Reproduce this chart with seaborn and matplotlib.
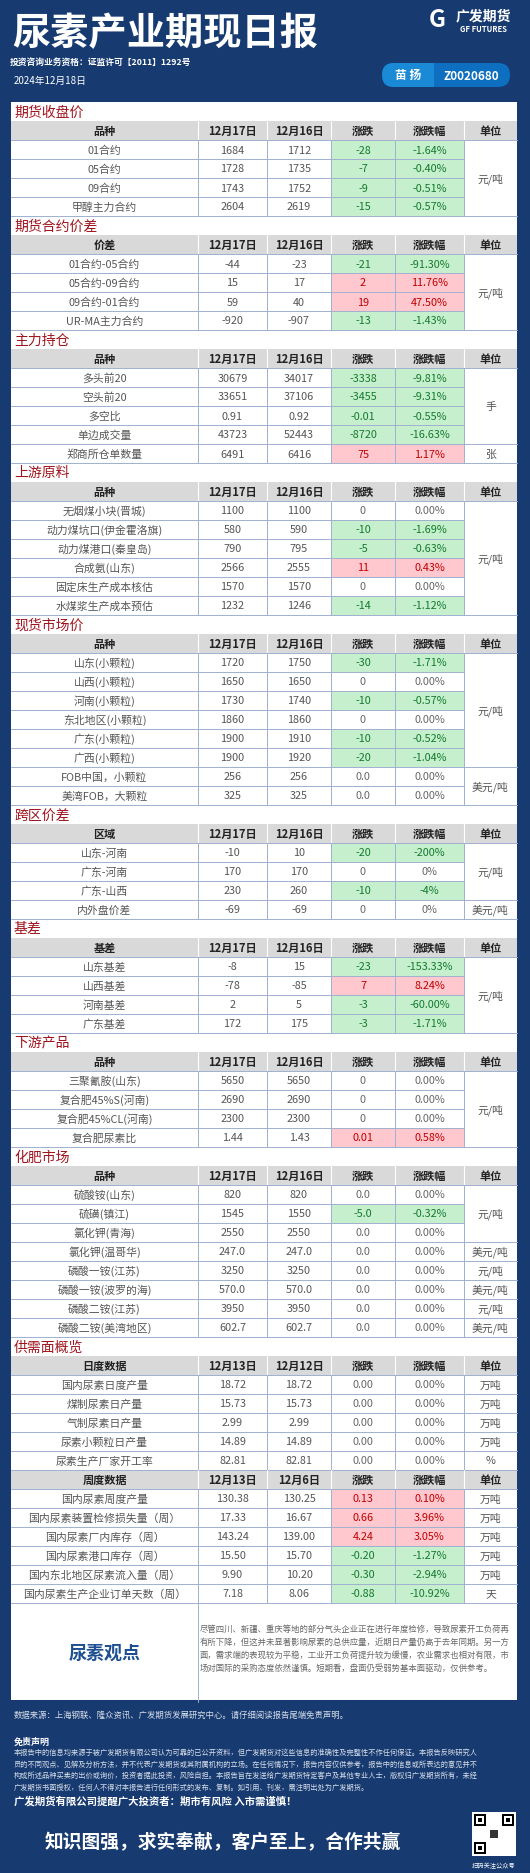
import matplotlib
matplotlib.use("Agg")
import matplotlib.pyplot as plt
import matplotlib.patches as mp
import seaborn as sns

sns.set_theme(style="white")
plt.rcParams['font.family'] = ['Noto Sans CJK SC', 'DejaVu Sans']

# ---------------- data ----------------
s1_names = ["01合约", "05合约", "09合约", "甲醇主力合约"]
s1_d1 = ["1684", "1728", "1743", "2604"]
s1_d2 = ["1712", "1735", "1752", "2619"]
s1_chg = ["-28", "-7", "-9", "-15"]
s1_pct = ["-1.64%", "-0.40%", "-0.51%", "-0.57%"]
s1_units = [("元/吨", 4)]

s2_names = ["01合约-05合约", "05合约-09合约", "09合约-01合约", "UR-MA主力合约"]
s2_d1 = ["-44", "15", "59", "-920"]
s2_d2 = ["-23", "17", "40", "-907"]
s2_chg = ["-21", "2", "19", "-13"]
s2_pct = ["-91.30%", "11.76%", "47.50%", "-1.43%"]
s2_units = [("元/吨", 4)]

s3_names = ["多头前20", "空头前20", "多空比", "单边成交量", "郑商所仓单数量"]
s3_d1 = ["30679", "33651", "0.91", "43723", "6491"]
s3_d2 = ["34017", "37106", "0.92", "52443", "6416"]
s3_chg = ["-3338", "-3455", "-0.01", "-8720", "75"]
s3_pct = ["-9.81%", "-9.31%", "-0.55%", "-16.63%", "1.17%"]
s3_units = [("手", 4), ("张", 1)]

s4_names = ["无烟煤小块(晋城)", "动力煤坑口(伊金霍洛旗)", "动力煤港口(秦皇岛)", "合成氨(山东)",
            "固定床生产成本核估", "水煤浆生产成本预估"]
s4_d1 = ["1100", "580", "790", "2566", "1570", "1232"]
s4_d2 = ["1100", "590", "795", "2555", "1570", "1246"]
s4_chg = ["0", "-10", "-5", "11", "0", "-14"]
s4_pct = ["0.00%", "-1.69%", "-0.63%", "0.43%", "0.00%", "-1.12%"]
s4_units = [("元/吨", 6)]

s5_names = ["山东(小颗粒)", "山西(小颗粒)", "河南(小颗粒)", "东北地区(小颗粒)", "广东(小颗粒)",
            "广西(小颗粒)", "FOB中国，小颗粒", "美湾FOB，大颗粒"]
s5_d1 = ["1720", "1650", "1730", "1860", "1900", "1900", "256", "325"]
s5_d2 = ["1750", "1650", "1740", "1860", "1910", "1920", "256", "325"]
s5_chg = ["-30", "0", "-10", "0", "-10", "-20", "0.0", "0.0"]
s5_pct = ["-1.71%", "0.00%", "-0.57%", "0.00%", "-0.52%", "-1.04%", "0.00%", "0.00%"]
s5_units = [("元/吨", 6), ("美元/吨", 2)]

s6_names = ["山东-河南", "广东-河南", "广东-山西", "内外盘价差"]
s6_d1 = ["-10", "170", "230", "-69"]
s6_d2 = ["10", "170", "260", "-69"]
s6_chg = ["-20", "0", "-10", "0"]
s6_pct = ["-200%", "0%", "-4%", "0%"]
s6_units = [("元/吨", 3), ("美元/吨", 1)]

s7_names = ["山东基差", "山西基差", "河南基差", "广东基差"]
s7_d1 = ["-8", "-78", "2", "172"]
s7_d2 = ["15", "-85", "5", "175"]
s7_chg = ["-23", "7", "-3", "-3"]
s7_pct = ["-153.33%", "8.24%", "-60.00%", "-1.71%"]
s7_units = [("元/吨", 4)]

s8_names = ["三聚氰胺(山东)", "复合肥45%S(河南)", "复合肥45%CL(河南)", "复合肥尿素比"]
s8_d1 = ["5650", "2690", "2300", "1.44"]
s8_d2 = ["5650", "2690", "2300", "1.43"]
s8_chg = ["0", "0", "0", "0.01"]
s8_pct = ["0.00%", "0.00%", "0.00%", "0.58%"]
s8_units = [("元/吨", 4)]

s9_names = ["硫酸铵(山东)", "硫磺(镇江)", "氯化钾(青海)", "氯化钾(温哥华)", "磷酸一铵(江苏)",
            "磷酸一铵(波罗的海)", "磷酸二铵(江苏)", "磷酸二铵(美湾地区)"]
s9_d1 = ["820", "1545", "2550", "247.0", "3250", "570.0", "3950", "602.7"]
s9_d2 = ["820", "1550", "2550", "247.0", "3250", "570.0", "3950", "602.7"]
s9_chg = ["0.0", "-5.0", "0.0", "0.0", "0.0", "0.0", "0.0", "0.0"]
s9_pct = ["0.00%", "-0.32%", "0.00%", "0.00%", "0.00%", "0.00%", "0.00%", "0.00%"]
s9_units = [("元/吨", 3), ("美元/吨", 1), ("元/吨", 1), ("美元/吨", 1), ("元/吨", 1), ("美元/吨", 1)]

s10a_names = ["国内尿素日度产量", "煤制尿素日产量", "气制尿素日产量", "尿素小颗粒日产量", "尿素生产厂家开工率"]
s10a_d1 = ["18.72", "15.73", "2.99", "14.89", "82.81"]
s10a_d2 = ["18.72", "15.73", "2.99", "14.89", "82.81"]
s10a_chg = ["0.00", "0.00", "0.00", "0.00", "0.00"]
s10a_pct = ["0.00%", "0.00%", "0.00%", "0.00%", "0.00%"]
s10a_units = [("万吨", 1), ("万吨", 1), ("万吨", 1), ("万吨", 1), ("%", 1)]

s10b_names = ["国内尿素周度产量", "国内尿素装置检修损失量（周）", "国内尿素厂内库存（周）",
              "国内尿素港口库存（周）", "国内东北地区尿素流入量（周）", "国内尿素生产企业订单天数（周）"]
s10b_d1 = ["130.38", "17.33", "143.24", "15.50", "9.90", "7.18"]
s10b_d2 = ["130.25", "16.67", "139.00", "15.70", "10.20", "8.06"]
s10b_chg = ["0.13", "0.66", "4.24", "-0.20", "-0.30", "-0.88"]
s10b_pct = ["0.10%", "3.96%", "3.05%", "-1.27%", "-2.94%", "-10.92%"]
s10b_units = [("万吨", 1)] * 5 + [("天", 1)]

hdr_dates = ["12月17日", "12月16日"]
hdr_dates_daily = ["12月13日", "12月12日"]
hdr_dates_weekly = ["12月13日", "12月6日"]

sections = [
    ("期货收盘价", "品种", hdr_dates, s1_names, s1_d1, s1_d2, s1_chg, s1_pct, s1_units),
    ("期货合约价差", "价差", hdr_dates, s2_names, s2_d1, s2_d2, s2_chg, s2_pct, s2_units),
    ("主力持仓", "品种", hdr_dates, s3_names, s3_d1, s3_d2, s3_chg, s3_pct, s3_units),
    ("上游原料", "品种", hdr_dates, s4_names, s4_d1, s4_d2, s4_chg, s4_pct, s4_units),
    ("现货市场价", "品种", hdr_dates, s5_names, s5_d1, s5_d2, s5_chg, s5_pct, s5_units),
    ("跨区价差", "区域", hdr_dates, s6_names, s6_d1, s6_d2, s6_chg, s6_pct, s6_units),
    ("基差", "基差", hdr_dates, s7_names, s7_d1, s7_d2, s7_chg, s7_pct, s7_units),
    ("下游产品", "品种", hdr_dates, s8_names, s8_d1, s8_d2, s8_chg, s8_pct, s8_units),
    ("化肥市场", "品种", hdr_dates, s9_names, s9_d1, s9_d2, s9_chg, s9_pct, s9_units),
    ("供需面概览", "日度数据", hdr_dates_daily, s10a_names, s10a_d1, s10a_d2, s10a_chg, s10a_pct, s10a_units),
    (None, "周度数据", hdr_dates_weekly, s10b_names, s10b_d1, s10b_d2, s10b_chg, s10b_pct, s10b_units),
]

view_text = ["尽管四川、新疆、重庆等地的部分气头企业正在进行年度检修，导致尿素开工负荷再",
             "有所下降，但这并未显著影响尿素的总供应量，近期日产量仍高于去年同期。另一方",
             "面，需求端的表现较为平稳，工业开工负荷提升较为缓慢，农业需求也相对有限，市",
             "场对国际的采购态度依然谨慎。短期看，盘面仍受弱势基本面驱动，仅供参考。"]
disclaimer = ["本报告中的信息均来源于被广发期货有限公司认为可靠的已公开资料，但广发期货对这些信息的准确性及完整性不作任何保证。本报告反映研究人",
              "员的不同观点、见解及分析方法，并不代表广发期货或其附属机构的立场。在任何情况下，报告内容仅供参考，报告中的信息或所表达的意见并不",
              "构成所述品种买卖的出价或询价，投资者据此投资，风险自担。本报告旨在发送给广发期货特定客户及其他专业人士，版权归广发期货所有，未经",
              "广发期货书面授权，任何人不得对本报告进行任何形式的发布、复制。如引用、刊发，需注明出处为广发期货。"]

# ---------------- drawing ----------------
NAVY = "#173b70"
GRID = "#9fb1cf"
W, H = 530, 1874
fig = plt.figure(figsize=(W / 100, H / 100), dpi=100)
fig.patch.set_facecolor(NAVY)
ax = fig.add_axes([0, 0, 1, 1])
ax.set_xlim(0, W)
ax.set_ylim(H, 0)
ax.axis("off")
sns.despine(ax=ax, left=True, bottom=True)

# header
ax.text(12, 34, "尿素产业期现日报", color="white", fontsize=27.5, fontweight="bold", va="center", ha="left")
ax.text(10, 62, "投资咨询业务资格：证监许可【2011】1292号", color="white", fontsize=6.3, fontweight="bold", va="center")
ax.text(14, 81, "2024年12月18日", color="white", fontsize=7, va="center")
ax.add_patch(mp.FancyBboxPatch((382, 64), 128, 24, boxstyle="round,pad=0,rounding_size=12",
                               fc="#0e6fc0", ec="none"))
ax.add_patch(mp.FancyBboxPatch((382, 64), 52, 24, boxstyle="round,pad=0,rounding_size=12",
                               fc="#1a8ad6", ec="none"))
ax.add_patch(mp.Rectangle((420, 64), 14, 24, fc="#1a8ad6", ec="none"))
ax.text(408, 76, "苗 扬", color="white", fontsize=8.5, fontweight="bold", ha="center", va="center")
ax.text(471, 76, "Z0020680", color="white", fontsize=8.5, fontweight="bold", ha="center", va="center")
ax.text(437, 20, "G", color="white", fontsize=17, fontweight="bold", style="italic", ha="center", va="center")
ax.text(483, 16, "广发期货", color="white", fontsize=10, fontweight="bold", ha="center", va="center")
ax.text(483, 29, "GF FUTURES", color="white", fontsize=5.5, fontweight="bold", ha="center", va="center")

X = [11, 198, 267, 331, 395, 464, 517]
RH = 19.0
top = 103
y = top
ax.add_patch(mp.Rectangle((11, top), 506, 1604 + 100 - top - 3, fc="white", ec="none", zorder=0))

def ctext(xc, yc, s, **kw):
    ax.text(xc, yc, s, ha="center", va="center", **kw)

for title, h0, dates, names, d1, d2, chg, pct, units in sections:
    if title:
        ax.text(14, y + RH / 2, title, color="#a0141e", fontsize=10, va="center")
        y += RH
    # header row
    ax.add_patch(mp.Rectangle((11, y), 506, RH, fc="#d9d9d9", ec="none"))
    hdr = [h0] + dates + ["涨跌", "涨跌幅", "单位"]
    for i, t in enumerate(hdr):
        ctext((X[i] + X[i + 1]) / 2, y + RH / 2, t, fontsize=8, fontweight="bold", color="#222222")
    for xv in X[1:-1]:
        ax.plot([xv, xv], [y, y + RH], color="white", lw=0.8)
    y0 = y + RH
    n = len(names)
    for r in range(n):
        yr = y0 + r * RH
        c = chg[r]
        val = float(c)
        if val > 0:
            fc, tc = "#ffc7ce", "#c00000"
        elif val < 0:
            fc, tc = "#c6efce", "#137a2c"
        else:
            fc, tc = None, "#666666"
        if fc:
            ax.add_patch(mp.Rectangle((X[3], yr), X[5] - X[3], RH, fc=fc, ec="none"))
        cells = [names[r], d1[r], d2[r], c, pct[r]]
        for i, t in enumerate(cells):
            col = tc if i >= 3 else "#555555"
            ctext((X[i] + X[i + 1]) / 2, yr + RH / 2, t, fontsize=7.8, color=col)
        if r > 0:
            ax.plot([X[0], X[5]], [yr, yr], color=GRID, lw=0.7)
    # units
    k = 0
    for u, cnt in units:
        yu = y0 + k * RH
        ctext((X[5] + X[6]) / 2, yu + cnt * RH / 2, u, fontsize=7.8, color="#555555")
        if k > 0:
            ax.plot([X[5], X[6]], [yu, yu], color=GRID, lw=0.7)
        k += cnt
    yend = y0 + n * RH
    for xv in X[1:-1]:
        ax.plot([xv, xv], [y0, yend], color=GRID, lw=0.7)
    ax.plot([X[0], X[6]], [y0, y0], color=GRID, lw=0.7)
    ax.plot([X[0], X[6]], [yend, yend], color=GRID, lw=0.7)
    y = yend

# view box
vb_top, vb_bot = y, y + 99
ax.plot([X[1], X[1]], [vb_top, vb_bot], color=GRID, lw=0.7)
ctext((X[0] + X[1]) / 2, (vb_top + vb_bot) / 2, "尿素观点", fontsize=13, fontweight="bold", color="#1d4f91")
for i, line in enumerate(view_text):
    ax.text(X[1] + 2, vb_top + 25 + i * 13, line, fontsize=6.0, color="#666666", va="center")

# footer
fy = vb_bot + 12
ax.text(14, fy, "数据来源：上海钢联、隆众资讯、广发期货发展研究中心。请仔细阅读报告尾端免责声明。",
        fontsize=6, color="#d8deea", va="center")
ax.text(14, fy + 27, "免责声明", fontsize=6.5, fontweight="bold", color="white", va="center")
for i, line in enumerate(disclaimer):
    ax.text(14, fy + 38 + i * 11.5, line, fontsize=5.2, color="#d8deea", va="center")
ax.text(14, fy + 86, "广发期货有限公司提醒广大投资者：期市有风险 入市需谨慎！", fontsize=7.5,
        fontweight="bold", color="white", va="center")
ax.text(45, 1843, "知识图强，求实奉献，客户至上，合作共赢", fontsize=13.5, fontweight="bold",
        color="white", va="center")
# QR-like badge
ax.add_patch(mp.Rectangle((472, 1813), 44, 44, fc="white", ec="none"))
for qx, qy in [(474, 1815), (502, 1815), (474, 1843)]:
    ax.add_patch(mp.Rectangle((qx, qy), 12, 12, fc="black", ec="none"))
    ax.add_patch(mp.Rectangle((qx + 2, qy + 2), 8, 8, fc="white", ec="none"))
    ax.add_patch(mp.Rectangle((qx + 4, qy + 4), 4, 4, fc="black", ec="none"))
ax.add_patch(mp.Rectangle((490, 1831), 8, 8, fc="#333333", ec="none"))
ax.text(494, 1866, "扫码关注公众号", fontsize=4.5, color="white", ha="center", va="center")

fig.savefig("out.png", dpi=100, facecolor=NAVY)
